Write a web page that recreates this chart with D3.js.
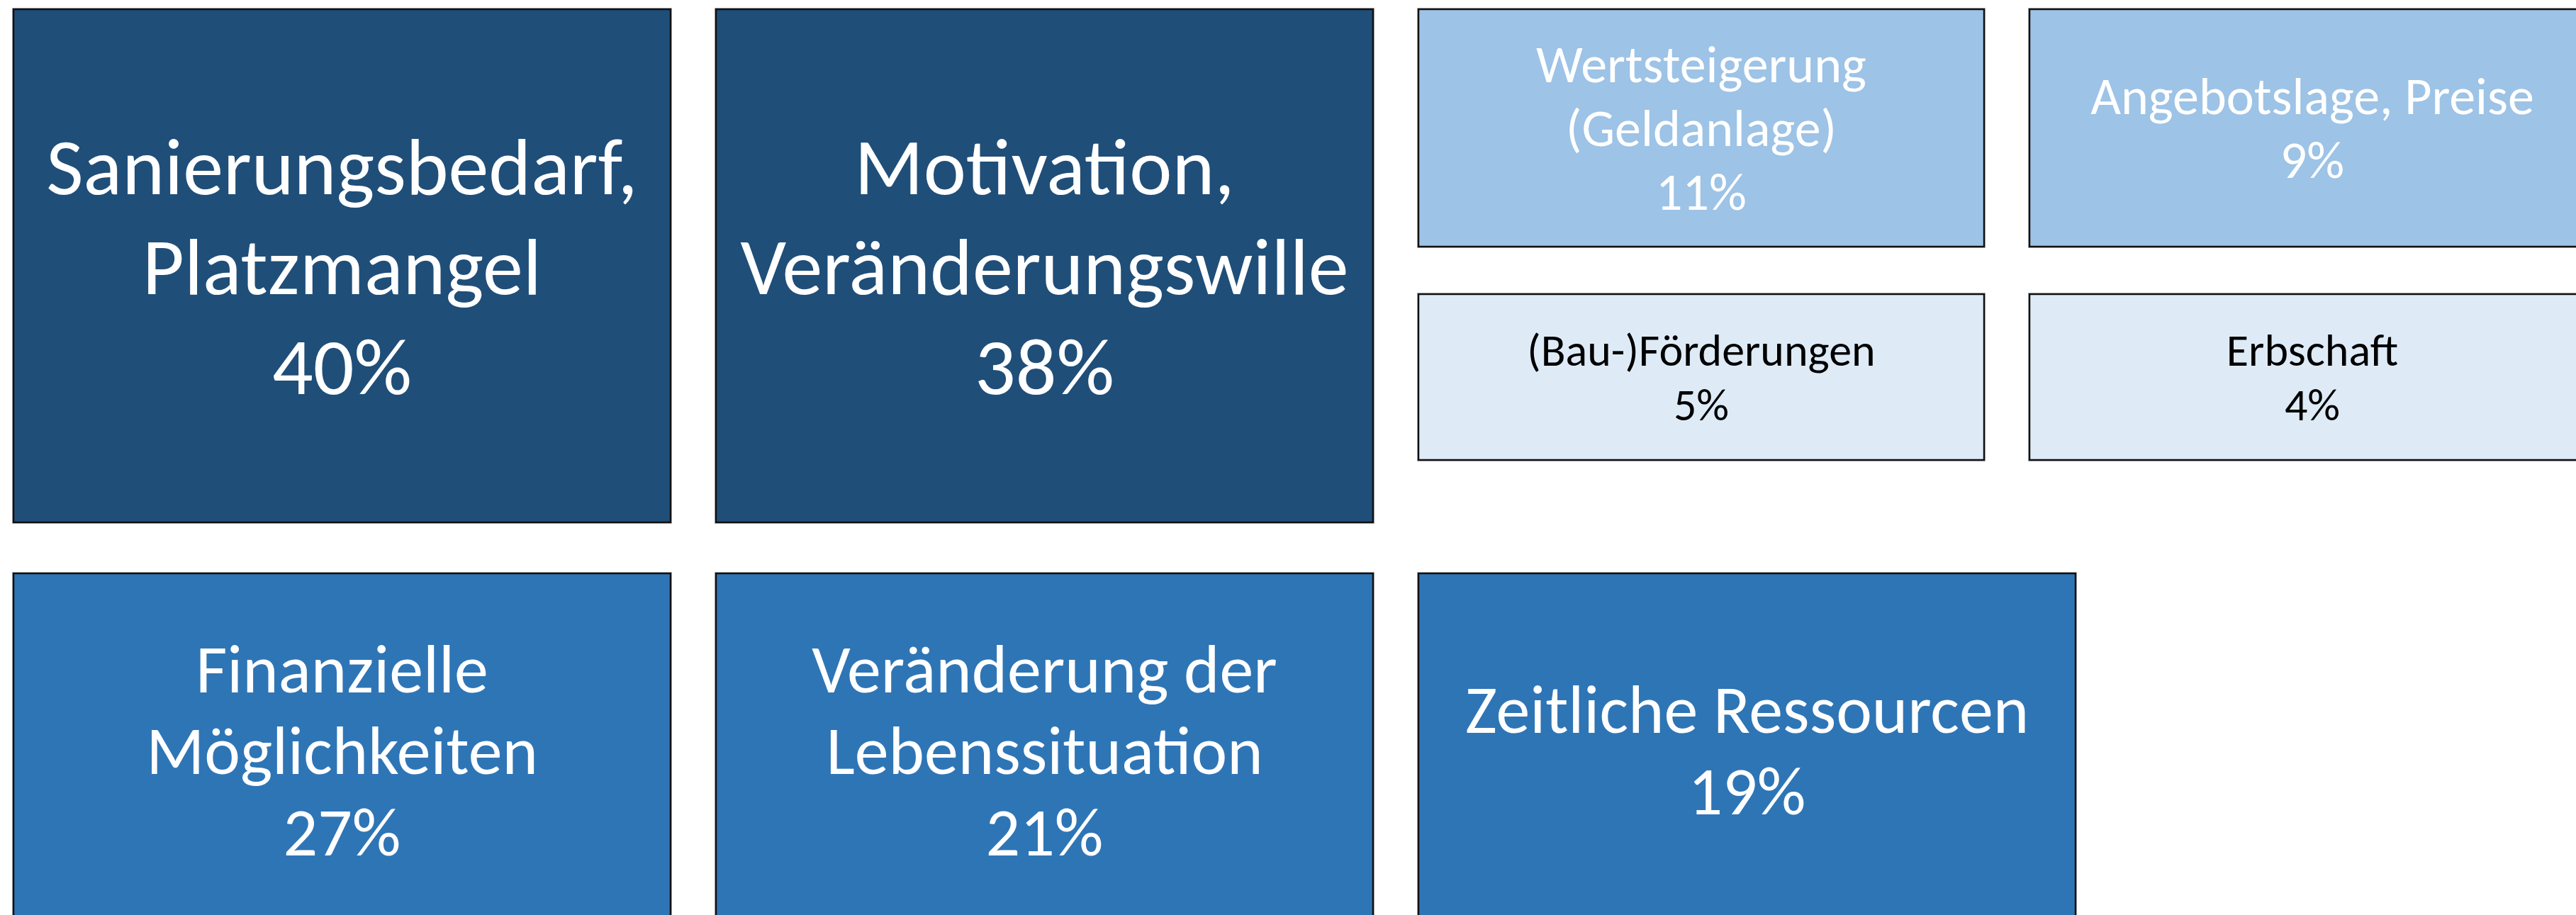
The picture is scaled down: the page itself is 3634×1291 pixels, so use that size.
<!DOCTYPE html>
<html>
<head>
<meta charset="utf-8">
<script src="https://cdn.jsdelivr.net/npm/d3@7"></script>
<style>
  html, body { margin: 0; padding: 0; background: #fff; overflow: hidden; }
  svg { display: block; }
</style>
</head>
<body>
<div id="chart"></div>
<script>
// categories (line breaks as in the original slide)
var labels = [
    "Sanierungsbedarf,\nPlatzmangel",
    "Motivation,\nVeränderungswille",
    "Wertsteigerung\n(Geldanlage)",
    "Angebotslage, Preise",
    "(Bau-)Förderungen",
    "Erbschaft",
    "Finanzielle\nMöglichkeiten",
    "Veränderung der\nLebenssituation",
    "Zeitliche Ressourcen"
];

// share of answers in percent
var values = [40, 38, 11, 9, 5, 4, 27, 21, 19];

// tile kind: big tiles on the grid, small tiles in the 2x2 block
var kinds = ["big", "big", "small", "small", "small", "small", "big", "big", "big"];

var data = labels.map(function(l, i) {
    return {label: l, value: values[i], kind: kinds[i]};
});

var width = 3634, height = 1291;

var svg = d3.select("#chart")
    .append("svg")
    .attr("width", width)
    .attr("height", height);

// colour and type size follow the value
var tier = d3.scaleThreshold()
    .domain([6, 15, 30])
    .range([0, 1, 2, 3]);

var fill = ["#DEEBF7", "#9DC3E6", "#2E75B6", "#1F4E79"];
var textColor = ["#000", "#fff", "#fff", "#fff"];
var fontSize = [64, 74, 96, 114];
var lineHeight = [77, 90, 115, 141];

// grid for the big tiles
var bigX = d3.scaleLinear().domain([0, 1]).range([19, 1010]);
var bigW = 927;
var rowY = d3.scaleLinear().domain([0, 1]).range([13, 809]);
var rowH = [724, 500];

// grid for the small tiles (2x2 block next to the top big tiles)
var smallX = d3.scaleLinear().domain([0, 1]).range([2001, 2863]);
var smallW = 798;
var smallY = [13, 415];
var smallH = [335, 234];

// place tiles: big ones fill the rows left to right, small ones fill the block
var bigCol = 0, bigRow = 0, smallIdx = 0;
data.forEach(function(d) {
    if (d.kind === "big") {
        if (bigRow === 0 && bigCol === 2) { bigRow = 1; bigCol = 0; }
        d.x = bigX(bigCol);
        d.y = rowY(bigRow);
        d.w = bigW;
        d.h = rowH[bigRow];
        bigCol++;
    } else {
        var c = smallIdx % 2, r = Math.floor(smallIdx / 2);
        d.x = smallX(c);
        d.y = smallY[r];
        d.w = smallW;
        d.h = smallH[r];
        smallIdx++;
    }
    d.tier = tier(d.value);
});

var tiles = svg.selectAll("g.tile")
    .data(data)
    .enter().append("g")
    .attr("class", "tile")
    .attr("transform", function(d) { return "translate(" + d.x + "," + d.y + ")"; });

// soft grey edge round the frame
tiles.append("rect")
    .attr("x", -1)
    .attr("y", -1)
    .attr("width", function(d) { return d.w + 2; })
    .attr("height", function(d) { return d.h + 2; })
    .attr("fill", "none")
    .attr("stroke", "#c8c8c8")
    .attr("stroke-width", 2);

tiles.append("rect")
    .attr("width", function(d) { return d.w; })
    .attr("height", function(d) { return d.h; })
    .attr("fill", function(d) { return fill[d.tier]; })
    .attr("stroke", "#111")
    .attr("stroke-width", 2.5);

var fmt = function(v) { return v + "%"; };

tiles.each(function(d) {
    var lines = d.label.split("\n").concat([fmt(d.value)]);
    var lh = lineHeight[d.tier];
    var cy = d.h / 2;
    if (d.kind === "big" && d.y > 500) cy = 249;
    var y0 = cy - (lines.length - 1) * lh / 2;
    var t = d3.select(this).append("text")
        .attr("text-anchor", "middle")
        .attr("font-family", "Carlito, Lato, 'Open Sans', sans-serif")
        .attr("font-size", fontSize[d.tier])
        .attr("fill", textColor[d.tier]);
    t.selectAll("tspan")
        .data(lines)
        .enter().append("tspan")
        .attr("x", d.w / 2)
        .attr("y", function(l, i) { return y0 + i * lh; })
        .attr("dy", "0.35em")
        .text(function(l) { return l; });
});
</script>
</body>
</html>
